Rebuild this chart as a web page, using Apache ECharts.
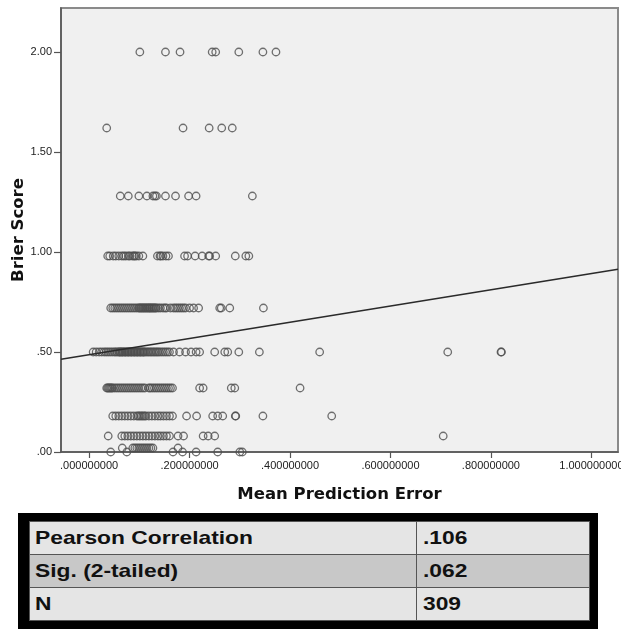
<!DOCTYPE html>
<html>
<head>
<meta charset="utf-8">
<script src="https://cdn.jsdelivr.net/npm/echarts@6/dist/echarts.min.js"></script>
<style>
  html, body { margin: 0; padding: 0; background: #fff; }
  #wrap { position: relative; width: 621px; height: 629px; overflow: hidden; }
  #chart { position: absolute; left: 0; top: 0; width: 621px; height: 629px; }
  #tbox { position: absolute; left: 18px; top: 513px; width: 580px; height: 130px; background: #000; }
  #stats { position: absolute; left: 11px; top: 8px; width: 561px; border-collapse: collapse;
           font-family: "Liberation Sans", Arial, sans-serif; font-weight: bold; font-size: 19px; color: #111; }
  #stats td { border: 1px solid #555; height: 32px; padding: 0 0 0 5px; line-height: 32px; white-space: nowrap; }
  #stats td.v { padding-left: 6px; }
  #stats td span { display: inline-block; transform: scaleX(1.2); transform-origin: 0 50%; }
</style>
</head>
<body>
<div id="wrap">
  <div id="chart"></div>
  <div id="tbox"><table id="stats"></table></div>
</div>
<script>
// ---- data ----
var brierLevels = [2.00, 1.62, 1.28, 0.98, 0.72, 0.50, 0.32, 0.18, 0.08, 0.02, 0.00];

var x2_00 = [0.101, 0.152, 0.181, 0.245, 0.252, 0.298, 0.346, 0.372];
var x1_62 = [0.035, 0.187, 0.239, 0.264, 0.285];
var x1_28 = [0.062, 0.078, 0.099, 0.115, 0.127, 0.131, 0.134, 0.152, 0.172, 0.198, 0.213, 0.325];
var x0_98 = [0.037, 0.041, 0.048, 0.053, 0.059, 0.065, 0.069, 0.073, 0.078, 0.081, 0.086, 0.089, 0.091, 0.094, 0.099, 0.107, 0.136, 0.141, 0.143, 0.147, 0.153, 0.158, 0.190, 0.196, 0.211, 0.225, 0.238, 0.240, 0.252, 0.291, 0.312, 0.318];
var x0_72 = [0.043, 0.047, 0.051, 0.055, 0.059, 0.063, 0.067, 0.071, 0.075, 0.079, 0.083, 0.087, 0.091, 0.095, 0.099, 0.100, 0.103, 0.104, 0.107, 0.108, 0.111, 0.112, 0.115, 0.116, 0.119, 0.120, 0.122, 0.124, 0.126, 0.128, 0.130, 0.132, 0.134, 0.138, 0.142, 0.147, 0.151, 0.154, 0.162, 0.168, 0.172, 0.176, 0.180, 0.184, 0.188, 0.192, 0.200, 0.208, 0.218, 0.260, 0.263, 0.280, 0.347];
var x0_50 = [0.008, 0.014, 0.020, 0.025, 0.030, 0.034, 0.038, 0.042, 0.046, 0.050, 0.053, 0.056, 0.059, 0.061, 0.062, 0.065, 0.066, 0.068, 0.071, 0.072, 0.074, 0.077, 0.078, 0.080, 0.083, 0.084, 0.086, 0.089, 0.090, 0.092, 0.095, 0.096, 0.098, 0.101, 0.102, 0.104, 0.107, 0.108, 0.110, 0.113, 0.116, 0.119, 0.122, 0.125, 0.128, 0.131, 0.134, 0.137, 0.140, 0.144, 0.148, 0.152, 0.156, 0.160, 0.168, 0.180, 0.192, 0.203, 0.213, 0.220, 0.250, 0.270, 0.276, 0.298, 0.339, 0.459, 0.714, 0.820, 0.821];
var x0_32 = [0.035, 0.037, 0.039, 0.041, 0.043, 0.045, 0.047, 0.051, 0.055, 0.059, 0.063, 0.067, 0.071, 0.075, 0.079, 0.083, 0.087, 0.091, 0.095, 0.099, 0.103, 0.107, 0.111, 0.119, 0.122, 0.126, 0.130, 0.134, 0.138, 0.142, 0.146, 0.150, 0.154, 0.158, 0.162, 0.166, 0.220, 0.227, 0.283, 0.290, 0.420];
var x0_18 = [0.047, 0.053, 0.059, 0.065, 0.071, 0.077, 0.083, 0.089, 0.095, 0.098, 0.101, 0.104, 0.107, 0.110, 0.113, 0.119, 0.125, 0.131, 0.137, 0.142, 0.148, 0.154, 0.160, 0.166, 0.194, 0.214, 0.246, 0.256, 0.266, 0.291, 0.292, 0.346, 0.483];
var x0_08 = [0.038, 0.065, 0.071, 0.077, 0.083, 0.089, 0.095, 0.101, 0.107, 0.113, 0.119, 0.125, 0.131, 0.137, 0.142, 0.148, 0.154, 0.160, 0.177, 0.188, 0.227, 0.237, 0.250, 0.705];
var x0_02 = [0.066, 0.087, 0.091, 0.095, 0.099, 0.103, 0.107, 0.111, 0.115, 0.119, 0.123, 0.127, 0.177];
var x0_00 = [0.043, 0.075, 0.167, 0.186, 0.213, 0.256, 0.300, 0.305];

var xByLevel = [x2_00, x1_62, x1_28, x0_98, x0_72, x0_50, x0_32, x0_18, x0_08, x0_02, x0_00];

// fitted regression line end points
var fitX = [-0.056, 1.053];
var fitY = [0.4635, 0.9135];

var xTickValues = [0, 0.2, 0.4, 0.6, 0.8, 1.0];
var xTickLabels = ['.000000000', '.200000000', '.400000000', '.600000000', '.800000000', '1.000000000'];
var yTickValues = [0, 0.5, 1.0, 1.5, 2.0];
var yTickLabels = ['.00', '.50', '1.00', '1.50', '2.00'];

var statLabels = ['Pearson Correlation', 'Sig. (2-tailed)', 'N'];
var statValues = ['.106', '.062', '309'];
var statRowColors = ['#e5e5e5', '#c8c8c8', '#e5e5e5'];

// ---- build ----
var points = [];
brierLevels.forEach(function (lv, i) {
  xByLevel[i].forEach(function (x) { points.push([x, lv]); });
});
var fitData = fitX.map(function (x, i) { return [x, fitY[i]]; });

function labelFor(vals, labels) {
  return function (v) {
    for (var i = 0; i < vals.length; i++) if (Math.abs(vals[i] - v) < 1e-9) return labels[i];
    return '';
  };
}

var chart = echarts.init(document.getElementById('chart'), null, { renderer: 'canvas' });
chart.setOption({
  animation: false,
  backgroundColor: 'transparent',
  grid: {
    left: 61, top: 8, right: 3, bottom: 177,
    outerBoundsMode: 'none', containLabel: false,
    show: true, backgroundColor: '#f0f0f0', borderColor: '#8a8a8a', borderWidth: 2
  },
  xAxis: {
    type: 'value', min: -0.056, max: 1.053,
    name: 'Mean Prediction Error', nameLocation: 'middle', nameGap: 34, nameMoveOverlap: false,
    nameTextStyle: { fontFamily: 'DejaVu Sans', fontWeight: 'bold', fontSize: 16.5, color: '#111' },
    axisLine: { show: true, onZero: false, lineStyle: { color: '#555', width: 1.5 } },
    axisTick: { show: true, length: 6, customValues: xTickValues, lineStyle: { color: '#555', width: 1.2 } },
    axisLabel: { customValues: xTickValues, formatter: labelFor(xTickValues, xTickLabels),
      fontFamily: 'Liberation Sans', fontSize: 11, color: '#222', margin: 8 },
    splitLine: { show: false }
  },
  yAxis: {
    type: 'value', min: 0, max: 2.22,
    name: 'Brier Score', nameLocation: 'middle', nameGap: 34, nameRotate: 90, nameMoveOverlap: false,
    nameTextStyle: { fontFamily: 'DejaVu Sans', fontWeight: 'bold', fontSize: 16.5, color: '#111' },
    axisLine: { show: true, onZero: false, lineStyle: { color: '#555', width: 1.5 } },
    axisTick: { show: true, length: 7, customValues: yTickValues, lineStyle: { color: '#555', width: 1.2 } },
    axisLabel: { customValues: yTickValues, formatter: labelFor(yTickValues, yTickLabels),
      fontFamily: 'Liberation Sans', fontSize: 11, color: '#222', margin: 9 },
    splitLine: { show: false }
  },
  series: [
    {
      type: 'scatter', data: points, symbol: 'circle', symbolSize: 7.5,
      itemStyle: { color: 'rgba(0,0,0,0)', borderColor: '#4e4e4e', borderWidth: 1.3 },
      z: 3
    },
    {
      type: 'line', data: fitData, showSymbol: false, symbol: 'none',
      lineStyle: { color: '#2a2a2a', width: 1.5 }, z: 4
    }
  ]
});

// stats table
var tbl = document.getElementById('stats');
statLabels.forEach(function (lab, i) {
  var tr = document.createElement('tr');
  tr.style.background = statRowColors[i];
  var td1 = document.createElement('td'); td1.style.width = '381px';
  var s1 = document.createElement('span'); s1.textContent = lab; td1.appendChild(s1);
  var td2 = document.createElement('td'); td2.className = 'v';
  var s2 = document.createElement('span'); s2.textContent = statValues[i]; td2.appendChild(s2);
  tr.appendChild(td1); tr.appendChild(td2); tbl.appendChild(tr);
});
</script>
</body>
</html>
